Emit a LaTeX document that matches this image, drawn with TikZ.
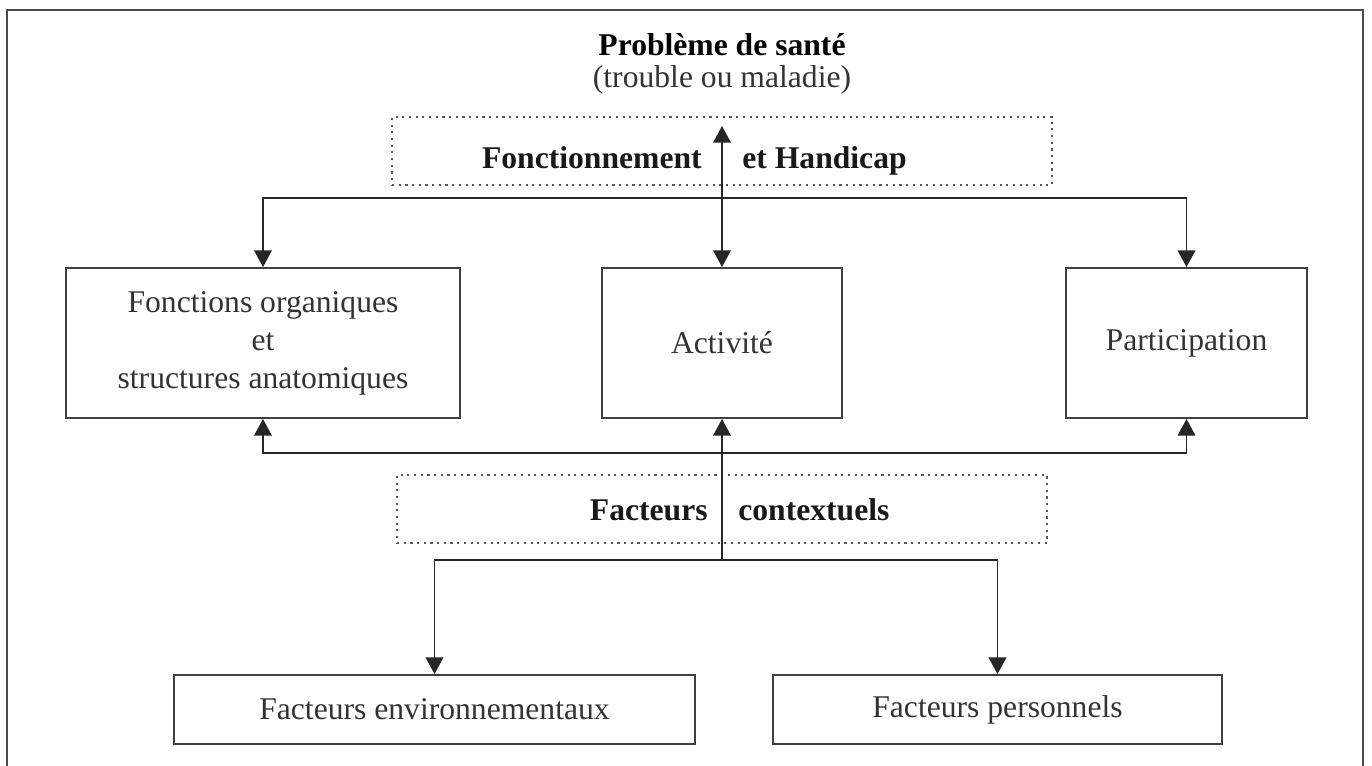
\documentclass[tikz,border=0pt]{standalone}
\usepackage{fontspec}
\setmainfont{Liberation Serif}
\usepackage{tikz}
\usetikzlibrary{arrows.meta}

\begin{document}
\begin{tikzpicture}[x=0.02cm,y=-0.02cm,
	boite/.style={draw=black!75,line width=1.1pt,inner sep=0pt,align=center,
		font=\fontsize{18}{21.6}\selectfont,text=black!80,minimum height=3cm},
	pointille/.style={draw=black!65,line width=1.1pt,dash pattern=on 1.2pt off 2.6pt,
		minimum width=13.2cm,minimum height=1.36cm},
	gras/.style={font=\fontsize{18}{21.6}\selectfont\bfseries,text=black!90,inner sep=0pt},
	fleche/.style={line width=1.1pt,draw=black!85,>={Triangle[length=9.5pt,width=10pt]}}]
		\clip (0,0) rectangle (1372,765);
		\draw[black!70,line width=1.3pt] (7,10) rectangle (1363,790);
		%
		\node[inner sep=0pt,align=center,font=\fontsize{18}{17.8}\selectfont] (pb) at (722,64)
			{\textbf{Problème de santé}\\{\color{black!80}(trouble ou maladie)}};
		\node[pointille] (fh) at (722,151) {};
		\node[gras,anchor=base east] (fonct) at (702,168) {Fonctionnement};
		\node[gras,anchor=base west] (handi) at (742,168) {et Handicap};
		%
		\node[boite,minimum width=7.88cm] (fonc) at (263,343) {Fonctions organiques\\et\\structures anatomiques};
		\node[boite,minimum width=4.8cm] (act) at (722,343) {Activité};
		\node[boite,minimum width=4.82cm] (part) at (1186.5,343) {Participation};
		%
		\node[pointille,minimum width=13cm] (fc) at (722,509) {};
		\node[gras,anchor=base east] (fact) at (708,520) {Facteurs};
		\node[gras,anchor=base west] (contx) at (738,520) {contextuels};
		%
		\node[boite,minimum width=10.42cm,minimum height=1.38cm] (env) at (434.5,709.5) {Facteurs environnementaux};
		\node[boite,minimum width=8.98cm,minimum height=1.38cm] (pers) at (997.5,709.5) {Facteurs personnels};
		%
		\coordinate (pbbas) at (722,126);
		\coordinate (jb) at (722,560);
		\draw[fleche,<->] (act.north) -- (pbbas);
		\draw[fleche,<->] (fonc.north) -- ++(0,-69) -| (part.north);
		\draw[fleche,<->] (fonc.south) -- ++(0,34) -| (part.south);
		\draw[fleche,->] (jb) -- (act.south);
		\draw[fleche,<->] (env.north) |- (jb) -| (pers.north);
\end{tikzpicture}
\end{document}
